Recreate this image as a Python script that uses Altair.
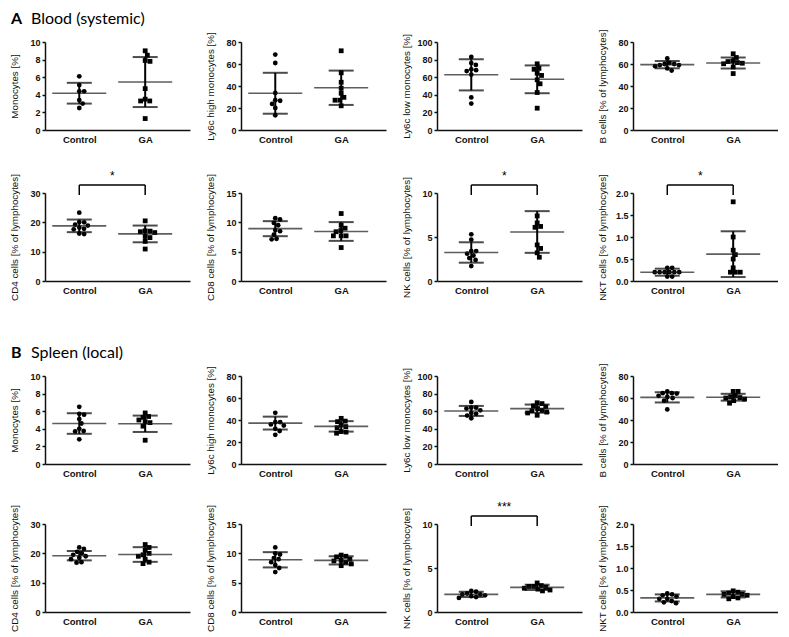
import math
import altair as alt
import pandas as pd

GROUPS = ["Control", "GA"]
W, H = 145, 88
XDOM = [-0.52, 1.68]
PX_PER_X = W / (XDOM[1] - XDOM[0])
FONT = "Liberation Sans"

# ---------------- data ----------------
y_titles = ["Monocytes [%]", "Ly6c high monocytes [%]", "Ly6c low monocytes [%]",
            "B cells [% of lymphocytes]", "CD4 cells [% of lymphocytes]",
            "CD8 cells [% of lymphocytes]", "NK cells [% of lymphocytes]",
            "NKT cells [% of lymphocytes]"]
y_max = [10, 80, 100, 80, 30, 15, 10, 2]
y_step = [2, 20, 20, 20, 10, 5, 5, 0.5]
headings = [("A", "Blood (systemic)"), ("B", "Spleen (local)")]

blood_mono_ctrl = [6.1, 5.1, 4.4, 4.4, 3.4, 3.0, 2.5]
blood_mono_ga = [9.0, 8.5, 7.9, 7.8, 4.7, 3.5, 3.3, 3.3, 1.3]
blood_ly6chi_ctrl = [68.6, 60.9, 33.7, 27.1, 26.6, 23.7, 20.0, 13.4]
blood_ly6chi_ga = [72.0, 52.0, 43.4, 38.0, 33.4, 29.7, 27.1, 27.1, 22.0]
blood_ly6clo_ctrl = [83, 76, 74, 69, 68, 67, 63, 37, 30]
blood_ly6clo_ga = [75.2, 70, 69, 64.5, 62, 57, 52.5, 42.6, 24.8]
blood_b_ctrl = [65, 61, 60, 60, 59, 59, 58, 56, 54]
blood_b_ga = [69.3, 65.9, 62.8, 62.2, 61.3, 60.7, 60.2, 57.3, 51.3]
blood_cd4_ctrl = [23.3, 20.1, 20.0, 19.2, 18.9, 18.2, 17.8, 17.6, 16.2, 16.0]
blood_cd4_ga = [20.5, 17.1, 17.0, 16.8, 16.5, 15.2, 14.8, 13.5, 10.9]
blood_cd8_ctrl = [10.7, 10.5, 9.9, 9.5, 8.7, 8.5, 7.9, 7.2, 7.1]
blood_cd8_ga = [11.5, 9.5, 9.0, 8.6, 8.4, 7.7, 7.7, 7.7, 5.7]
blood_nk_ctrl = [5.3, 4.7, 3.4, 3.4, 3.1, 2.9, 2.6, 2.4, 1.7]
blood_nk_ga = [7.4, 6.6, 6.2, 6.1, 4.1, 3.7, 3.2, 2.7]
blood_nkt_ctrl = [0.3, 0.3, 0.2, 0.2, 0.2, 0.2, 0.2, 0.2, 0.1, 0.1]
blood_nkt_ga = [1.8, 1.0, 0.7, 0.6, 0.5, 0.3, 0.2, 0.2, 0.2]

spleen_mono_ctrl = [6.5, 5.7, 5.6, 5.1, 4.6, 4.0, 3.75, 3.7, 2.8]
spleen_mono_ga = [5.8, 5.4, 5.3, 5.0, 4.8, 4.7, 4.3, 2.7]
spleen_ly6chi_ctrl = [46.5, 38, 38, 36, 35, 32, 30, 26.5]
spleen_ly6chi_ga = [41.5, 39, 38.5, 35.5, 34, 33, 29.5, 29, 28]
spleen_ly6clo_ctrl = [70.5, 64, 64, 63, 61, 58, 57, 55, 52]
spleen_ly6clo_ga = [69.6, 68.6, 66, 65, 63, 61, 60.7, 59, 58, 55.4]
spleen_b_ctrl = [66, 64.4, 64.4, 64, 62, 61, 60, 57.6, 49.6]
spleen_b_ga = [66, 66, 62, 61, 60.4, 60, 59, 57.6, 55.3]
spleen_cd4_ctrl = [22, 21.5, 20.5, 20, 19.5, 19, 18.5, 18, 17, 16.8]
spleen_cd4_ga = [23, 22, 21, 20, 19.5, 19, 18, 17, 16.5]
spleen_cd8_ctrl = [11, 10, 9.8, 9.2, 9, 8.5, 8, 7.5, 6.8]
spleen_cd8_ga = [9.7, 9.5, 9.4, 9, 8.8, 8.7, 8.5, 8.2, 7.9]
spleen_nk_ctrl = [2.4, 2.3, 2.1, 2.0, 2.0, 1.9, 1.8, 1.7, 1.6]
spleen_nk_ga = [3.3, 3.0, 2.9, 2.9, 2.8, 2.7, 2.6, 2.5, 2.4]
spleen_nkt_ctrl = [0.42, 0.4, 0.38, 0.35, 0.3, 0.3, 0.25, 0.22, 0.2]
spleen_nkt_ga = [0.48, 0.45, 0.43, 0.4, 0.4, 0.38, 0.35, 0.32, 0.3]

# mean / SD as drawn: [ctrl mean, ctrl sd, GA mean, GA sd]
blood_stats = [[4.18, 1.18, 5.45, 2.84], [33.4, 18.6, 38.4, 15.6], [62.7, 17.7, 57.6, 15.8],
               [59.4, 3.3, 60.9, 5.0], [18.8, 2.15, 16.05, 2.85], [8.92, 1.28, 8.44, 1.6],
               [3.24, 1.16, 5.57, 2.37], [0.20, 0.08, 0.61, 0.52]]
spleen_stats = [[4.6, 1.17, 4.57, 0.93], [37.2, 5.85, 34.2, 4.75], [60.3, 5.7, 62.9, 4.65],
                [60.6, 4.65, 60.7, 3.1], [19.2, 1.6, 19.6, 2.5], [8.9, 1.3, 8.8, 0.7],
                [2.0, 0.3, 2.8, 0.3], [0.32, 0.08, 0.40, 0.07]]
blood_sig = [None, None, None, None, "*", None, "*", "*"]
spleen_sig = [None, None, None, None, None, None, "***", None]

blood_vals = [(blood_mono_ctrl, blood_mono_ga), (blood_ly6chi_ctrl, blood_ly6chi_ga),
              (blood_ly6clo_ctrl, blood_ly6clo_ga), (blood_b_ctrl, blood_b_ga),
              (blood_cd4_ctrl, blood_cd4_ga), (blood_cd8_ctrl, blood_cd8_ga),
              (blood_nk_ctrl, blood_nk_ga), (blood_nkt_ctrl, blood_nkt_ga)]
spleen_vals = [(spleen_mono_ctrl, spleen_mono_ga), (spleen_ly6chi_ctrl, spleen_ly6chi_ga),
               (spleen_ly6clo_ctrl, spleen_ly6clo_ga), (spleen_b_ctrl, spleen_b_ga),
               (spleen_cd4_ctrl, spleen_cd4_ga), (spleen_cd8_ctrl, spleen_cd8_ga),
               (spleen_nk_ctrl, spleen_nk_ga), (spleen_nkt_ctrl, spleen_nkt_ga)]


def swarm(vals, ymax, d=4.9):
    """Simple beeswarm: horizontal pixel offsets so that dots do not overlap."""
    k = H / ymax
    placed, offs = [], [0.0] * len(vals)
    for i in sorted(range(len(vals)), key=lambda j: -vals[j]):
        y = vals[i] * k
        cands = [0.0]
        for px, py in placed:
            dy = abs(py - y)
            if dy < d:
                w = math.sqrt(d * d - dy * dy)
                cands += [px - w, px + w]
        cands.sort(key=lambda c: (round(abs(c), 6), -c))
        for c in cands:
            if all((c - px) ** 2 + (y - py) ** 2 >= d * d - 1e-6 for px, py in placed):
                offs[i] = c
                placed.append((c, y))
                break
    return offs


def panel(idx, vals, stats, sig, heading=None):
    ymax, step = y_max[idx], y_step[idx]
    rows = []
    for gi, v in enumerate(vals):
        for val, o in zip(v, swarm(v, ymax)):
            rows.append({"group": GROUPS[gi], "value": val, "xpos": gi + o / PX_PER_X})
    pts = pd.DataFrame(rows)
    summ = pd.DataFrame({"gi": [0, 1], "mean": [stats[0], stats[2]], "sd": [stats[1], stats[3]]})

    xsc = alt.Scale(domain=XDOM, nice=False, zero=False)
    ysc = alt.Scale(domain=[0, ymax], nice=False)
    nt = int(round(ymax / step))
    yvals = [round(i * step, 3) for i in range(nt + 1)]
    xaxis = alt.Axis(values=[0, 1], labelExpr=f"datum.value == 0 ? '{GROUPS[0]}' : '{GROUPS[1]}'",
                     ticks=False, grid=False, title=None, labelFont=FONT, labelFontSize=9.5,
                     labelFontWeight="bold", labelColor="#111", labelPadding=4, labelFlush=False,
                     domainColor="#111", domainWidth=1.5)
    yaxis = alt.Axis(values=yvals, format=".1f" if step < 1 else "d", grid=False, title=y_titles[idx],
                     tickSize=3, tickWidth=1.5, tickColor="#111", domainColor="#111", domainWidth=1.5,
                     labelFont=FONT, labelFontSize=9, labelFontWeight="bold", labelColor="#111",
                     labelPadding=2, titleFont=FONT, titleFontSize=9.8, titleFontWeight="normal",
                     titleColor="#111", titlePadding=6, minExtent=20, maxExtent=20)

    def X(f):
        return alt.X(f, scale=xsc, axis=xaxis, title=None)

    def Y(f):
        return alt.Y(f, scale=ysc, axis=yaxis, title=y_titles[idx])

    dots = alt.Chart(pts).mark_point(filled=True, size=23, opacity=1, color="black").encode(
        x=X("xpos:Q"), y=Y("value:Q"),
        shape=alt.Shape("group:N", scale=alt.Scale(domain=GROUPS, range=["circle", "square"]), legend=None),
    )
    base = alt.Chart(summ).transform_calculate(lo="datum.mean - datum.sd", hi="datum.mean + datum.sd")
    mean_t = base.mark_tick(orient="horizontal", size=54, thickness=1.6, color="#1a1a1a").encode(
        x=X("gi:Q"), y=Y("mean:Q"))
    caps = base.transform_fold(["lo", "hi"], as_=["k", "v"]).mark_tick(
        orient="horizontal", size=25, thickness=2, color="black").encode(x=X("gi:Q"), y=Y("v:Q"))
    vrule = base.mark_rule(strokeWidth=2, color="black").encode(x=X("gi:Q"), y=Y("lo:Q"), y2="hi:Q")
    layers = [dots, mean_t, caps, vrule]

    if sig:
        br = pd.DataFrame({"x0": [0], "x1": [1], "xm": [0.5], "label": [sig]})
        legs = pd.DataFrame({"gi": [0, 1]})
        layers.append(alt.Chart(br).mark_rule(strokeWidth=1.5, color="black").encode(
            x=X("x0:Q"), x2="x1:Q", y=alt.value(-8)))
        layers.append(alt.Chart(legs).mark_rule(strokeWidth=1.5, color="black").encode(
            x=X("gi:Q"), y=alt.value(-8), y2=alt.value(2)))
        layers.append(alt.Chart(br).mark_text(fontSize=12, font=FONT, color="black", baseline="middle").encode(
            x=X("xm:Q"), y=alt.value(-17), text="label:N"))
    if heading:
        hd = pd.DataFrame({"a": [heading[0]], "b": [heading[1]]})
        layers.append(alt.Chart(hd).mark_text(font="Lato", fontSize=16, fontWeight="bold", align="left",
                                              baseline="alphabetic", color="black").encode(
            x=alt.value(-34), y=alt.value(-18), text="a:N"))
        layers.append(alt.Chart(hd).mark_text(font="Lato", fontSize=16, align="left",
                                              baseline="alphabetic", color="black").encode(
            x=alt.value(-14), y=alt.value(-18), text="b:N"))
    return alt.layer(*layers).properties(width=W, height=H)


def spacer(h):
    return alt.Chart(pd.DataFrame({"v": [0]})).mark_point(opacity=0).encode(
        x=alt.X("v:Q", axis=None), y=alt.Y("v:Q", axis=None)).properties(width=W, height=h)


items = []
for r, (vals, stats, sig, head) in enumerate([(blood_vals, blood_stats, blood_sig, headings[0]),
                                              (spleen_vals, spleen_stats, spleen_sig, headings[1])]):
    for row in range(2):
        for c in range(4):
            i = row * 4 + c
            items.append(panel(i, vals[i], stats[i], sig[i], head if (row == 0 and c == 0) else None))
        if not (r == 1 and row == 1):
            h = 43 if row == 0 and r == 0 else (75 if r == 0 else 40)
            items += [spacer(h) for _ in range(4)]

chart = alt.concat(*items, columns=4, spacing={"row": 10, "column": 51},
                   bounds="flush", align="each").properties(
    padding={"left": 0, "top": 3, "right": 0, "bottom": 0}
).configure(font=FONT).configure_view(stroke=None)

chart.save("out.html", embed_options={"renderer": "svg", "actions": False})
